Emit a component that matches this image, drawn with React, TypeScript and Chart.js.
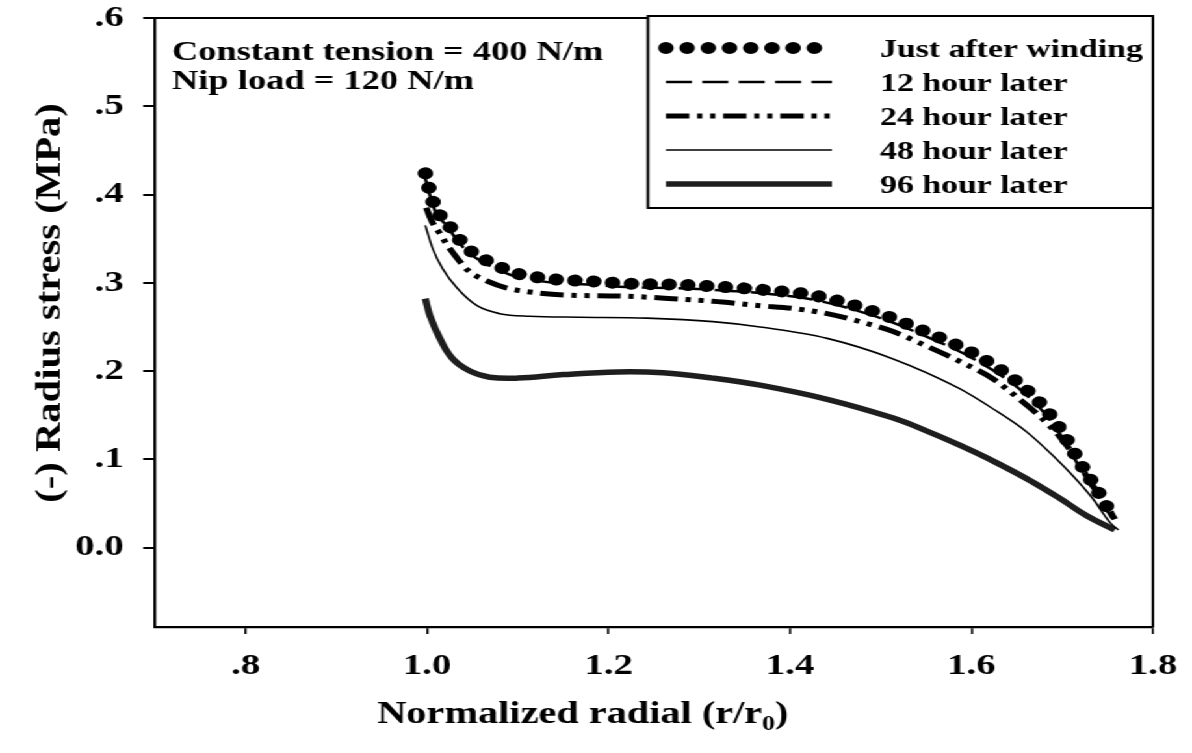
import React, { useEffect, useRef } from "react";
import { Chart, registerables } from "chart.js";

Chart.register(...registerables);

// The reference scan is horizontally stretched; we draw at 1/STRETCH width and stretch with CSS.
const STRETCH = 1.3;
const W_REF = 1192;
const H = 753;
const W = Math.round(W_REF / STRETCH);

const FONT = "'Liberation Serif', 'Times New Roman', serif";

const xTicks = [0.8, 1.0, 1.2, 1.4, 1.6, 1.8];
const yTicks = [0, 0.1, 0.2, 0.3, 0.4, 0.5, 0.6];
const xTitleMain = "Normalized radial (r/r";
const xTitleSub = "0";
const xTitleEnd = ")";
const yTitle = "(-) Radius stress (MPa)";
const noteLines = ["Constant tension = 400 N/m", "Nip load = 120 N/m"];
const seriesLabels = [
  "Just after winding",
  "12 hour later",
  "24 hour later",
  "48 hour later",
  "96 hour later",
];

const xJust = [0.998, 1.003, 1.009, 1.022, 1.034, 1.047, 1.064, 1.078, 1.097, 1.117, 1.139, 1.176, 1.224, 1.271, 1.315, 1.37, 1.425, 1.491, 1.546, 1.602, 1.65, 1.679, 1.7, 1.719, 1.738, 1.755];
const yJust = [0.424, 0.404, 0.385, 0.368, 0.351, 0.337, 0.326, 0.319, 0.311, 0.307, 0.304, 0.302, 0.299, 0.298, 0.296, 0.292, 0.286, 0.268, 0.246, 0.22, 0.188, 0.16, 0.131, 0.097, 0.066, 0.036];

const x12 = [0.998, 1.003, 1.009, 1.022, 1.034, 1.047, 1.064, 1.078, 1.097, 1.117, 1.139, 1.176, 1.224, 1.271, 1.315, 1.37, 1.425, 1.491, 1.546, 1.602, 1.65, 1.679, 1.7, 1.719, 1.738, 1.755];
const y12 = [0.418, 0.399, 0.381, 0.364, 0.347, 0.333, 0.322, 0.315, 0.307, 0.303, 0.3, 0.298, 0.295, 0.294, 0.292, 0.288, 0.281, 0.263, 0.241, 0.214, 0.182, 0.154, 0.125, 0.091, 0.06, 0.033];

const x24 = [0.999, 1.005, 1.014, 1.022, 1.033, 1.045, 1.066, 1.088, 1.11, 1.154, 1.213, 1.271, 1.315, 1.367, 1.403, 1.441, 1.477, 1.513, 1.551, 1.587, 1.624, 1.653, 1.675, 1.697, 1.716, 1.731, 1.745, 1.758];
const y24 = [0.385, 0.37, 0.356, 0.343, 0.328, 0.314, 0.302, 0.294, 0.29, 0.286, 0.285, 0.282, 0.279, 0.274, 0.271, 0.265, 0.256, 0.245, 0.228, 0.211, 0.191, 0.168, 0.149, 0.126, 0.1, 0.074, 0.055, 0.032];

const x48 = [0.998, 1.006, 1.017, 1.033, 1.055, 1.08, 1.113, 1.168, 1.242, 1.315, 1.367, 1.441, 1.513, 1.587, 1.624, 1.661, 1.69, 1.712, 1.734, 1.753, 1.762];
const y48 = [0.365, 0.339, 0.316, 0.294, 0.274, 0.265, 0.262, 0.261, 0.26, 0.256, 0.25, 0.237, 0.214, 0.18, 0.157, 0.131, 0.104, 0.081, 0.055, 0.028, 0.02];

const x96 = [0.998, 1.003, 1.014, 1.028, 1.047, 1.069, 1.1, 1.15, 1.21, 1.26, 1.315, 1.367, 1.441, 1.513, 1.551, 1.587, 1.624, 1.661, 1.697, 1.727, 1.758];
const y96 = [0.282, 0.263, 0.237, 0.214, 0.2, 0.193, 0.192, 0.196, 0.199, 0.198, 0.192, 0.184, 0.168, 0.147, 0.132, 0.116, 0.098, 0.078, 0.056, 0.036, 0.02];

const pts = (xs: number[], ys: number[]) => xs.map((x, i) => ({ x, y: ys[i] }));

const fmt = (v: number) => {
  if (Math.abs(v) < 1e-9) return "0.0";
  if (v < 1) return "." + Math.round(v * 10);
  return v.toFixed(1);
};

const r = (xRef: number) => xRef / STRETCH;

const framePlugin = {
  id: "frame",
  afterDraw(chart: any) {
    const { ctx, chartArea } = chart;
    ctx.save();
    ctx.strokeStyle = "#000";
    ctx.lineWidth = 2;
    ctx.beginPath();
    ctx.moveTo(chartArea.left, chartArea.top);
    ctx.lineTo(chartArea.right, chartArea.top);
    ctx.lineTo(chartArea.right, chartArea.bottom);
    ctx.stroke();
    ctx.restore();
  },
};

const textPlugin = {
  id: "texts",
  afterDraw(chart: any) {
    const { ctx } = chart;
    ctx.save();
    ctx.fillStyle = "#000";
    // annotation
    ctx.font = `bold 28px ${FONT}`;
    ctx.textAlign = "left";
    ctx.textBaseline = "alphabetic";
    ctx.fillText(noteLines[0], r(172), 60);
    ctx.fillText(noteLines[1], r(172), 89);

    // x title with subscript
    const big = `bold 31px ${FONT}`;
    const small = `bold 20px ${FONT}`;
    ctx.font = big;
    const w1 = ctx.measureText(xTitleMain).width;
    const w3 = ctx.measureText(xTitleEnd).width;
    ctx.font = small;
    const w2 = ctx.measureText(xTitleSub).width;
    const total = w1 + w2 + w3;
    const cx = r(583);
    const x0 = cx - total / 2;
    const base = 723;
    ctx.font = big;
    ctx.fillText(xTitleMain, x0, base);
    ctx.font = small;
    ctx.fillText(xTitleSub, x0 + w1, base + 7);
    ctx.font = big;
    ctx.fillText(xTitleEnd, x0 + w1 + w2, base);

    // y title (condensed)
    ctx.save();
    ctx.translate(r(50), 303);
    ctx.rotate(-Math.PI / 2);
    ctx.scale(1.45, 1);
    ctx.font = `bold 28px ${FONT}`;
    ctx.textAlign = "center";
    ctx.textBaseline = "middle";
    ctx.fillText(yTitle, 0, 0);
    ctx.restore();

    ctx.restore();
  },
};

const legendPlugin = {
  id: "boxLegend",
  afterDraw(chart: any) {
    const { ctx, chartArea } = chart;
    const left = r(648);
    const right = chartArea.right;
    const top = chartArea.top - 2;
    const bottom = 208;
    ctx.save();
    ctx.fillStyle = "#fff";
    ctx.fillRect(left, top, right - left, bottom - top);
    ctx.strokeStyle = "#000";
    ctx.lineWidth = 2;
    ctx.strokeRect(left, top, right - left, bottom - top);
    const rows = [48, 82, 116, 150, 184];
    chart.data.datasets.forEach((ds: any, i: number) => {
      const y = rows[i];
      ctx.save();
      ctx.strokeStyle = ds.borderColor;
      ctx.lineWidth = ds.borderWidth;
      ctx.lineCap = ds.borderCapStyle || "butt";
      const dash = i === 0 ? [0.01, 16.3] : ds.borderDash || [];
      ctx.setLineDash(dash);
      ctx.beginPath();
      ctx.moveTo(r(666), y);
      ctx.lineTo(r(832), y);
      ctx.stroke();
      ctx.restore();
      ctx.fillStyle = "#000";
      ctx.font = `bold 26px ${FONT}`;
      ctx.textAlign = "left";
      ctx.textBaseline = "alphabetic";
      ctx.fillText(seriesLabels[i], r(880), y + 9);
    });
    ctx.restore();
  },
};

const tickFont = { family: FONT, weight: "bold" as const, size: 30 };

export default function App() {
  const ref = useRef<HTMLCanvasElement | null>(null);
  useEffect(() => {
    const canvas = ref.current!;
    const chart = new Chart(canvas, {
      type: "line",
      data: {
        datasets: [
          {
            label: seriesLabels[0],
            data: pts(xJust, yJust),
            borderColor: "#000",
            borderWidth: 12,
            borderDash: [0.01, 14.5],
            borderCapStyle: "round",
            pointRadius: 0,
            cubicInterpolationMode: "monotone",
          },
          {
            label: seriesLabels[1],
            data: pts(x12, y12),
            borderColor: "#000",
            borderWidth: 2.5,
            borderDash: [20, 8],
            pointRadius: 0,
            cubicInterpolationMode: "monotone",
          },
          {
            label: seriesLabels[2],
            data: pts(x24, y24),
            borderColor: "#000",
            borderWidth: 5,
            borderDash: [18, 6, 4, 6, 4, 6],
            pointRadius: 0,
            cubicInterpolationMode: "monotone",
          },
          {
            label: seriesLabels[3],
            data: pts(x48, y48),
            borderColor: "#000",
            borderWidth: 1.6,
            pointRadius: 0,
            cubicInterpolationMode: "monotone",
          },
          {
            label: seriesLabels[4],
            data: pts(x96, y96),
            borderColor: "#1e1e1e",
            borderWidth: 5.5,
            pointRadius: 0,
            tension: 0.4,
          },
        ],
      } as any,
      options: {
        responsive: false,
        animation: false,
        layout: { padding: { left: 0, right: W - r(1153), top: 18, bottom: 0 } },
        plugins: { legend: { display: false }, tooltip: { enabled: false } },
        scales: {
          x: {
            type: "linear",
            min: 0.7,
            max: 1.8,
            afterBuildTicks: (s: any) => {
              s.ticks = xTicks.map((v) => ({ value: v }));
            },
            afterFit: (s: any) => {
              s.height = H - 627;
              s.paddingLeft = 0;
              s.paddingRight = 0;
            },
            grid: { drawOnChartArea: false, drawTicks: true, tickLength: 7, color: "#000", lineWidth: 1.6 },
            border: { display: true, color: "#000", width: 2.2 },
            ticks: { color: "#000", font: tickFont, padding: 14, maxRotation: 0, autoSkip: false, callback: (v: any) => fmt(Number(v)) },
          },
          y: {
            type: "linear",
            min: -0.09,
            max: 0.6,
            afterBuildTicks: (s: any) => {
              s.ticks = yTicks.map((v) => ({ value: v }));
            },
            afterFit: (s: any) => {
              s.width = r(155);
              s.paddingTop = 0;
              s.paddingBottom = 0;
            },
            grid: { drawOnChartArea: false, drawTicks: true, tickLength: 9, color: "#000", lineWidth: 2 },
            border: { display: true, color: "#000", width: 2.2 },
            ticks: { color: "#000", font: tickFont, padding: 15, autoSkip: false, callback: (v: any) => fmt(Number(v)) },
          },
        },
      } as any,
      plugins: [framePlugin, legendPlugin, textPlugin],
    });
    return () => chart.destroy();
  }, []);

  return (
    <div
      style={{
        position: "fixed",
        left: 0,
        top: 0,
        width: W,
        height: H,
        background: "#fff",
        transform: `scaleX(${W_REF / W})`,
        transformOrigin: "0 0",
      }}
    >
      <canvas ref={ref} width={W} height={H} style={{ width: W, height: H, display: "block" }} />
    </div>
  );
}
